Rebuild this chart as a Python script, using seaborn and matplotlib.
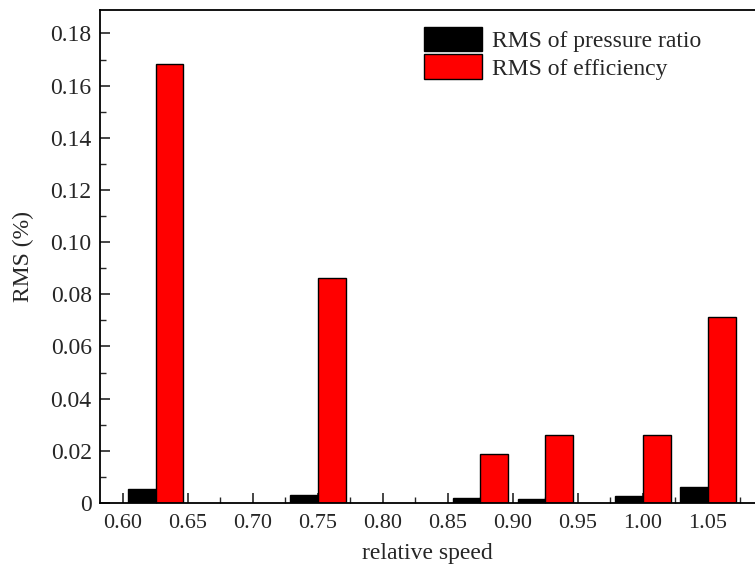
import numpy as np
import pandas as pd
import matplotlib
matplotlib.use("Agg")
import matplotlib.pyplot as plt
from matplotlib.ticker import FixedLocator, MultipleLocator
import seaborn as sns

# Relative speeds of the operating points and the RMS values (%) at each
speeds = [0.625, 0.75, 0.875, 0.925, 1.00, 1.05]
rms_pressure_ratio = [0.0052, 0.0029, 0.0021, 0.0014, 0.0025, 0.0060]
rms_efficiency = [0.1683, 0.0862, 0.0187, 0.0259, 0.0259, 0.0714]
series_names = ["RMS of pressure ratio", "RMS of efficiency"]
series_colors = ["black", "red"]

x_tick_values = [0.60, 0.65, 0.70, 0.75, 0.80, 0.85, 0.90, 0.95, 1.00, 1.05]
y_tick_values = [0, 0.02, 0.04, 0.06, 0.08, 0.10, 0.12, 0.14, 0.16, 0.18]

df = pd.DataFrame({
    "speed": speeds * 2,
    "rms": rms_pressure_ratio + rms_efficiency,
    "series": [series_names[0]] * len(speeds) + [series_names[1]] * len(speeds),
})

sns.set_style("ticks")
plt.rcParams["font.family"] = ["Liberation Serif", "DejaVu Serif"]
plt.rcParams["xtick.direction"] = "in"
plt.rcParams["ytick.direction"] = "in"

fig = plt.figure(figsize=(7.55, 5.66), dpi=100)
ax = fig.add_axes([100 / 755, 63 / 566, 1 - 100 / 755, (503 - 10) / 566])

sns.barplot(
    data=df, x="speed", y="rms", hue="series",
    hue_order=series_names,
    palette=dict(zip(series_names, series_colors)),
    native_scale=True, width=0.86, saturation=1,
    edgecolor="black", linewidth=1.0, errorbar=None, ax=ax,
)

ax.set_xlim(0.5823, 1.0862)
ax.set_ylim(0, 0.189)

ax.xaxis.set_major_locator(FixedLocator(x_tick_values))
ax.set_xticklabels([f"{v:.2f}" for v in x_tick_values])
ax.xaxis.set_minor_locator(MultipleLocator(0.025))
ax.yaxis.set_major_locator(FixedLocator(y_tick_values))
ax.set_yticklabels(["0" if v == 0 else f"{v:.2f}" for v in y_tick_values])
ax.yaxis.set_minor_locator(MultipleLocator(0.01))

ax.tick_params(which="major", length=7, width=1.2)
ax.tick_params(which="minor", length=4, width=1.0)
ax.tick_params(axis="x", which="major", labelsize=16, pad=8)
ax.tick_params(axis="y", which="major", labelsize=17, pad=6)
ax.tick_params(axis="x", which="both", top=False)
ax.tick_params(axis="y", which="both", right=False)

for side in ["left", "bottom", "top"]:
    ax.spines[side].set_linewidth(1.3)
    ax.spines[side].set_color("black")
ax.spines["right"].set_visible(False)

ax.set_xlabel("relative speed", fontsize=17, labelpad=7)
ax.set_ylabel("RMS (%)", fontsize=17, labelpad=12)

handles, labels = ax.get_legend_handles_labels()
ax.legend(
    handles, labels, loc="upper left",
    bbox_to_anchor=(424 / 755, 1 - 27 / 566), bbox_transform=fig.transFigure,
    frameon=False, borderpad=0, borderaxespad=0,
    handlelength=2.45, handleheight=1.2, handletextpad=0.42,
    labelspacing=0.1, fontsize=17,
)

fig.savefig("out.png", dpi=100)
